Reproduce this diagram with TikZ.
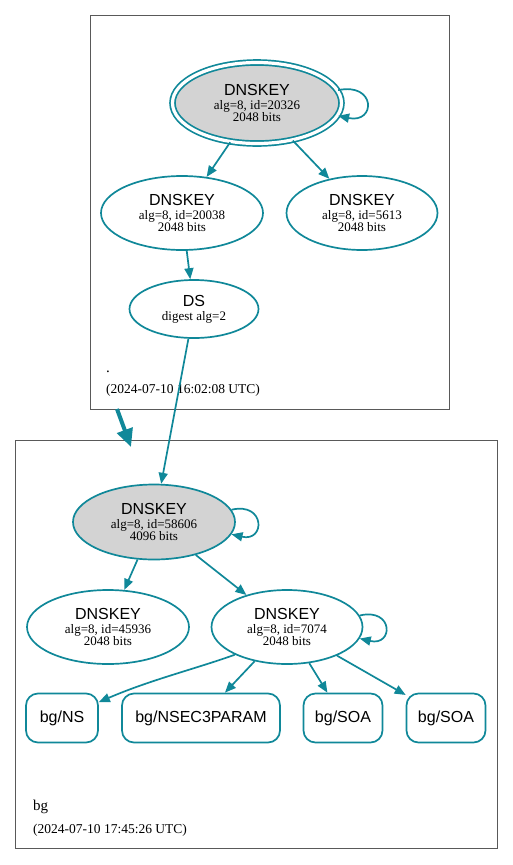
\documentclass[tikz,border=0pt]{standalone}
\usepackage{fontspec}
\setmainfont{Liberation Serif}
\setsansfont{Liberation Sans}
\usetikzlibrary{shapes.geometric}
\usetikzlibrary{arrows.meta}
\usepackage{xcolor}
\definecolor{dnsteal}{RGB}{16,136,153}
\definecolor{keygray}{RGB}{211,211,211}
\newcommand{\rrtitle}[1]{{\sffamily\fontsize{16}{16}\selectfont #1}}

\begin{document}
\begin{tikzpicture}[x=1pt, y=-1pt]
        % ================= 样式定义 =================
        \tikzset{
            keynode/.style={ellipse, draw=dnsteal, line width=1.7pt, fill=white, inner sep=0pt, align=center, font=\fontsize{13}{12.5}\selectfont},
            sepnode/.style={keynode, fill=keygray},
            rrnode/.style={rectangle, rounded corners=12pt, draw=dnsteal, line width=1.7pt, fill=white, minimum height=49pt, inner sep=0pt, font=\sffamily\fontsize{16}{18}\selectfont},
            dns_edge/.style={line width=1.7pt, dnsteal, -{Triangle[length=11pt,width=9pt]}},
            cluster_edge/.style={line width=4pt, dnsteal, -{Triangle[length=18pt,width=16pt]}},
            zone_box/.style={draw=black!65, line width=0.8pt},
            zone_label/.style={anchor=base west, inner sep=0pt, font=\fontsize{15}{16}\selectfont},
            zone_time/.style={anchor=base west, inner sep=0pt, font=\fontsize{13.5}{15}\selectfont}
        }

        % 画布
        \fill[white] (0,0) rectangle (513,865);
        \useasboundingbox (0,0) rectangle (513,865);

        % ================= 上层区域: . =================
        \draw[zone_box] (90,15) rectangle (449,409);

        \node[sepnode, double=white, double distance=3.2pt, minimum width=169pt, minimum height=81pt] (k20326) at (257,103)
            {\rrtitle{DNSKEY}\\[1.5pt]alg=8, id=20326\\2048 bits};
        \node[keynode, minimum width=162pt, minimum height=74pt] (k20038) at (182,213)
            {\rrtitle{DNSKEY}\\[1.5pt]alg=8, id=20038\\2048 bits};
        \node[keynode, minimum width=151pt, minimum height=74pt] (k5613) at (362,213)
            {\rrtitle{DNSKEY}\\[1.5pt]alg=8, id=5613\\2048 bits};
        \node[keynode, minimum width=129pt, minimum height=58pt] (ds) at (194,309)
            {\rrtitle{DS}\\[1.5pt]digest alg=2};

        \node[zone_label] (root_name) at (106,372) {.};
        \node[zone_time] (root_time) at (106,393) {(2024-07-10 16:02:08 UTC)};

        % 边
        \draw[dns_edge] (k20326.9) .. controls +(38,-8) and +(38,8) .. (k20326.-9);
        \draw[dns_edge] (k20326) -- (k20038);
        \draw[dns_edge] (k20326) -- (k5613);
        \draw[dns_edge] (k20038) -- (ds);

        % ================= 下层区域: bg =================
        \draw[zone_box] (15,440) rectangle (497,848);

        \node[sepnode, minimum width=162pt, minimum height=75pt] (k58606) at (154,522)
            {\rrtitle{DNSKEY}\\[1.5pt]alg=8, id=58606\\4096 bits};
        \node[keynode, minimum width=162pt, minimum height=74pt] (k45936) at (108,627)
            {\rrtitle{DNSKEY}\\[1.5pt]alg=8, id=45936\\2048 bits};
        \node[keynode, minimum width=151pt, minimum height=74pt] (k7074) at (287,627)
            {\rrtitle{DNSKEY}\\[1.5pt]alg=8, id=7074\\2048 bits};

        \node[rrnode, minimum width=72pt] (bgns) at (62,718) {bg/NS};
        \node[rrnode, minimum width=158pt] (bgnsec) at (201,718) {bg/NSEC3PARAM};
        \node[rrnode, minimum width=79pt] (bgsoa) at (343,718) {bg/SOA};
        \node[rrnode, minimum width=79pt] (bgsoab) at (446,718) {bg/SOA};

        \node[zone_label] (bg_name) at (33,810) {bg};
        \node[zone_time] (bg_time) at (33,833) {(2024-07-10 17:45:26 UTC)};

        % 边
        \draw[dns_edge] (ds) -- (k58606);
        \draw[dns_edge] (k58606.9) .. controls +(34,-8) and +(34,8) .. (k58606.-9);
        \draw[dns_edge] (k58606) -- (k45936);
        \draw[dns_edge] (k58606) -- (k7074);
        \draw[dns_edge] (k7074.9) .. controls +(34,-8) and +(34,8) .. (k7074.-9);
        \draw[dns_edge] (k7074.-152) .. controls (195,669) and (150,680) .. (bgns);
        \draw[dns_edge] (k7074) -- (bgnsec);
        \draw[dns_edge] (k7074) -- (bgsoa);
        \draw[dns_edge] (k7074) -- (bgsoab);

        % 区域之间的粗箭头
        \coordinate (cut_from) at (117,409);
        \coordinate (cut_to) at (131,447);
        \draw[cluster_edge] (cut_from) -- (cut_to);

    \end{tikzpicture}
\end{document}
